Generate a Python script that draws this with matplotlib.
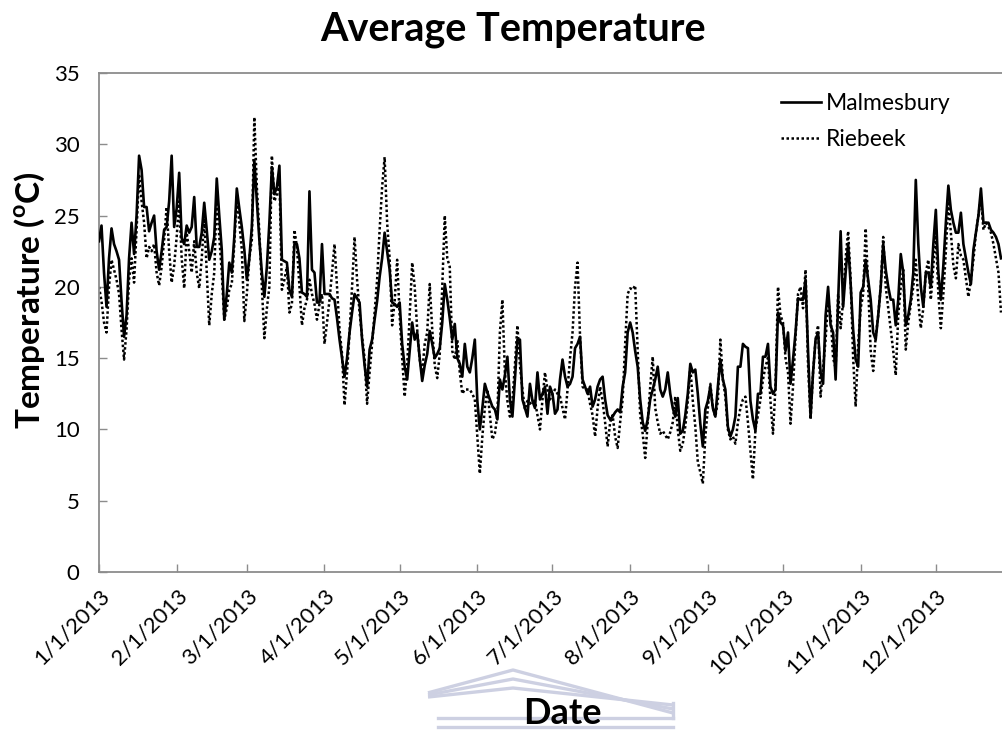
import matplotlib
matplotlib.use("Agg")
import matplotlib.pyplot as plt
from matplotlib.lines import Line2D
import pandas as pd

plt.rcParams["font.family"] = ["Lato", "DejaVu Sans"]
plt.rcParams["mathtext.fontset"] = "custom"
plt.rcParams["mathtext.rm"] = "Lato"
plt.rcParams["mathtext.bf"] = "Lato:bold"

# Daily mean temperature (deg C), 2013, starting 1 January
malmesbury = [
    # Jan
    23.2, 24.3, 21, 18.6, 22, 24.1, 23, 22.5, 21.9, 19, 16.5, 18, 22, 24.5, 22.3, 25,
    29.2, 28.2, 25.6, 25.6, 23.9, 24.5, 25, 22.5, 21.2, 22.5, 24, 24.2, 26, 29.2, 24.2,
    # Feb
    25.5, 28, 23.4, 23, 24.3, 23.8, 24.2, 26.3, 22.8, 22.8, 23.8, 25.9, 24, 21.9, 22.5,
    23.5, 27.6, 25, 22.6, 17.7, 19.5, 21.7, 21, 23.5, 26.9, 25.5, 24.2, 22.6,
    # Mar
    20.5, 22, 24.2, 28.9, 26, 23.3, 21, 19.3, 21.4, 24.5, 28.4, 26.5, 27, 28.5, 21.9, 21.8,
    21.7, 19.8, 19.3, 23, 23, 22, 19.6, 19.5, 19.3, 26.7, 21.2, 21, 18.9, 18.9, 23,
    # Apr
    19.5, 19.5, 19.5, 19.2, 19.1, 17.8, 16.3, 15, 13.7, 15, 16.8, 18.2, 19.5, 19.2, 18.9,
    16.3, 14.5, 13, 15.6, 16.3, 17.7, 19, 20.7, 22, 23.8, 22.5, 21.2, 18.9, 18.8, 18.6,
    # May
    18.9, 16, 14.4, 13.5, 15.5, 17.5, 16.3, 16.8, 15, 13.4, 14.5, 15.3, 16.9, 16, 15, 15.3,
    15.7, 17.5, 20.2, 19.1, 17.8, 16.3, 17.4, 15, 14.6, 13.7, 16, 14.4, 14, 15, 16.3,
    # Jun
    12, 10, 11.5, 13.2, 12.6, 12.1, 11.6, 11.4, 10.7, 13.5, 12.8, 13.8, 15.1, 12.1, 10.9,
    13.5, 16.3, 16.3, 12.1, 11.5, 10.9, 13.2, 12, 11.5, 14, 12.1, 12.5, 13, 11.1, 13,
    # Jul
    12.5, 11.1, 11.4, 13.5, 14.9, 13.7, 13, 13.2, 13.7, 15.7, 16, 16.5, 13.5, 13, 12.5, 13,
    11.6, 12.1, 13, 13.5, 13.7, 12.1, 11, 10.7, 10.9, 11.2, 11.4, 11.2, 13, 14, 16.8,
    # Aug
    17.5, 16.8, 15.5, 14.4, 12.1, 10.5, 9.9, 10.7, 12.1, 12.8, 13.5, 14.4, 12.8, 12.3, 12.8,
    14, 12.5, 11.5, 10.9, 12.2, 9.7, 9.9, 11, 12.5, 14.6, 14, 14.2, 12.5, 10.4, 8.8, 11.4,
    # Sep
    12, 13, 11.5, 10.9, 13, 14.9, 13.5, 12.8, 10.2, 9.5, 10, 10.9, 14.4, 14.4, 16, 15.8,
    15.7, 12, 10.7, 9.9, 12.5, 12.5, 15.1, 15.1, 16, 13, 12.5, 12.8, 18.2, 17.5,
    # Oct
    17.3, 15.5, 16.8, 13.2, 14.9, 16.8, 19.2, 19.1, 19.1, 20.5, 15.5, 10.9, 14, 16.3, 16.8,
    14, 13.2, 18, 20, 17.3, 16.8, 13.5, 19, 23.9, 18.6, 21, 23, 20.2, 17, 14.9, 14.4,
    # Nov
    19.6, 20, 21.9, 20.5, 19.1, 16.8, 16.3, 18, 20, 23, 21.2, 20, 19.1, 19.1, 17.3, 19.1,
    22.3, 21, 17.3, 18, 19.1, 21, 27.5, 23, 20, 18.6, 21, 21, 20, 23,
    # Dec
    25.4, 21, 19.1, 21.5, 24.5, 27.1, 25.4, 24.5, 23.8, 23.8, 25.2, 23, 22, 21, 20.2, 22.6,
    23.8, 25, 26.9, 24.5, 24.5, 24.5, 24, 23.8, 23.5, 23, 22,
]

riebeek = [
    # Jan
    20, 19, 17.5, 16.8, 20, 21.9, 21.2, 20.5, 19.5, 17, 14.9, 17, 20.5, 22, 20.3, 24,
    27.9, 26, 24.5, 22, 22.8, 22.5, 23, 21, 20.1, 21.4, 23.3, 25.6, 22.5, 20.3, 21.5,
    # Feb
    23.5, 26, 22, 19.9, 23.8, 22.5, 21, 23.2, 21, 19.9, 22, 24.8, 21, 17.3, 19.5,
    21, 26.5, 23.5, 21, 17.7, 18.5, 19.8, 20.2, 23, 26.3, 24.5, 22.6, 17.6,
    # Mar
    19.5, 22, 23.3, 31.9, 27, 23.8, 20, 16.4, 18.5, 20, 29.2, 26, 26.5, 27.7, 19.8, 20.5,
    21.4, 18.2, 18.8, 24, 22.8, 20, 17.3, 18.5, 19.1, 20.5, 19.5, 18.8, 17.7, 18.8, 19.5,
    # Apr
    16, 17.5, 19.1, 21, 23, 20, 17, 15.3, 11.7, 14, 16.8, 20, 23.5, 20.5, 18.2,
    16.5, 15, 11.8, 14, 16, 18.2, 20.5, 24, 27, 29.1, 24.5, 22, 17.3, 19, 21.9,
    # May
    18, 15, 12.3, 14.5, 18, 21.7, 20, 17, 14.9, 14, 16, 16.8, 20.2, 17, 14.5, 13.6,
    15.3, 20, 25, 22, 21.4, 15.5, 14.9, 16.3, 14, 12.5, 12.8, 12.8, 12.8, 12.5, 12.1,
    # Jun
    9.5, 6.9, 9.5, 11.5, 12.8, 11, 9.3, 9.7, 11, 16.8, 19.1, 14, 12, 10.9, 12,
    14.5, 17.3, 14.5, 12.8, 11.4, 12, 11.8, 12, 12, 11, 10, 12.1, 14, 12.8, 12.1,
    # Jul
    12.5, 12.8, 12.5, 12.3, 11.5, 10.7, 12.8, 15, 16.8, 20, 21.7, 16.5, 13, 12.8, 12.8, 11.8,
    11, 9.5, 11.5, 13, 12, 10.5, 8.8, 10.5, 11, 9.5, 8.7, 10.5, 12.1, 16, 19.5,
    # Aug
    19.9, 19.8, 20.1, 15.5, 11, 9.7, 8, 10.5, 13, 15.1, 11.5, 10.5, 9.7, 9.9, 9.6,
    9.3, 9.8, 10.5, 12.3, 10, 8.5, 9, 10.2, 12, 14.4, 12, 10.2, 7.7, 7, 6.2, 9.5,
    # Sep
    11.5, 13.2, 11.5, 10.9, 12, 16.3, 13.5, 12.3, 10, 9.3, 9.5, 9, 10.5, 11.5, 12.1, 12.3,
    10.5, 8.5, 6.5, 10, 11, 12.1, 13.5, 14.4, 15, 12, 9.7, 13, 20, 18,
    # Oct
    17.5, 15, 14, 10.4, 13, 16.5, 19.5, 20, 18.5, 21.2, 14.5, 10.7, 14, 16.3, 17.3,
    12.3, 14.3, 16.3, 19, 18, 15, 14.3, 19.5, 17.1, 19, 22, 23.9, 20.5, 15, 11.6, 16,
    # Nov
    18.5, 19.5, 24.1, 20, 15.5, 14.1, 16.5, 18, 20, 23.5, 20, 18.5, 17, 15.5, 13.8, 18,
    20, 21.2, 15.6, 17.5, 18.8, 20, 21.9, 19, 17.1, 18.5, 21, 21.9, 19.1, 21.5,
    # Dec
    23.8, 19.5, 17.1, 19.5, 22.5, 26, 23.8, 21.5, 20.6, 23, 22.2, 21.9, 20.6, 19.3, 20.5, 21.9,
    23.8, 25, 26.3, 24, 24.5, 24.2, 23.8, 23, 22, 21, 18.2,
]

series_names = ["Malmesbury", "Riebeek"]
y_ticks = [0, 5, 10, 15, 20, 25, 30, 35]
month_starts = pd.date_range("2013-01-01", "2013-12-01", freq="MS")
month_labels = [f"{d.month}/{d.day}/{d.year}" for d in month_starts]

dates = pd.date_range("2013-01-01", periods=len(malmesbury), freq="D")
dates_r = pd.date_range("2013-01-01", periods=len(riebeek), freq="D")

W, H = 1003, 730
fig = plt.figure(figsize=(W / 100, H / 100), dpi=100)
# plot area runs from 1 Jan to 31 Dec; its right end lies just past the page edge
ax = fig.add_axes([99 / W, 158 / H, 912 / W, 499 / H])

ax.plot(dates, malmesbury, color="black", lw=1.9, solid_joinstyle="round",
        label=series_names[0], zorder=3)
ax.plot(dates_r, riebeek, color="black", lw=1.8, linestyle=(0, (1, 1)),
        label=series_names[1], zorder=2)

ax.set_xlim(pd.Timestamp("2013-01-01"), pd.Timestamp("2013-12-31"))
ax.set_ylim(0, 35)
ax.set_yticks(y_ticks)
ax.set_yticklabels([str(v) for v in y_ticks], fontsize=16)
ax.set_xticks(month_starts)
ax.set_xticklabels(month_labels, rotation=45, ha="right", va="top",
                   rotation_mode="anchor", fontsize=16)

axis_grey = "#8c8c8c"
for side in ["left", "bottom", "top", "right"]:
    ax.spines[side].set_color(axis_grey)
    ax.spines[side].set_linewidth(1.3)
ax.tick_params(axis="both", direction="in", color=axis_grey, length=6, width=1)
ax.tick_params(axis="y", pad=14)
ax.tick_params(axis="x", pad=10)

fig.text(513 / W, 1 - 29 / H, "Average Temperature", ha="center", va="center",
         fontsize=28.5, fontweight="bold")
fig.text(30 / W, 1 - 300 / H, r"Temperature ($^{\mathbf{o}}$C)", rotation=90,
         ha="center", va="center", fontsize=24, fontweight="bold")

# faint pediment emblem behind the axis title
emblem = "#cdd0e2"
apex_x, right_x, left_x = 513, 673, 428
for apex_y, end_drop in ((670, 43), (679, 30), (688, 17)):
    fig.add_artist(Line2D(
        [left_x / W, apex_x / W, right_x / W],
        [1 - (apex_y + end_drop * (apex_x - left_x) / (right_x - apex_x)) / H,
         1 - apex_y / H, 1 - (apex_y + end_drop) / H],
        color=emblem, lw=2.4, zorder=0, solid_capstyle="butt"))
fig.add_artist(Line2D([right_x / W, right_x / W], [1 - 703 / H, 1 - 718 / H],
                      color=emblem, lw=2.4, zorder=0))
for base_y in (718, 727):
    fig.add_artist(Line2D([(left_x + 10) / W, right_x / W], [1 - base_y / H, 1 - base_y / H],
                          color=emblem, lw=2.4, zorder=0))

fig.text(562 / W, 1 - 713 / H, "Date", ha="center", va="center",
         fontsize=26, fontweight="bold", zorder=2)

leg = ax.legend(loc="upper left", bbox_to_anchor=(772 / W, 1 - 84 / H),
                bbox_transform=fig.transFigure, frameon=False, fontsize=16.5,
                handlelength=1.75, handletextpad=0.2, labelspacing=0.65,
                borderaxespad=0)

fig.savefig("out.png", dpi=100)
